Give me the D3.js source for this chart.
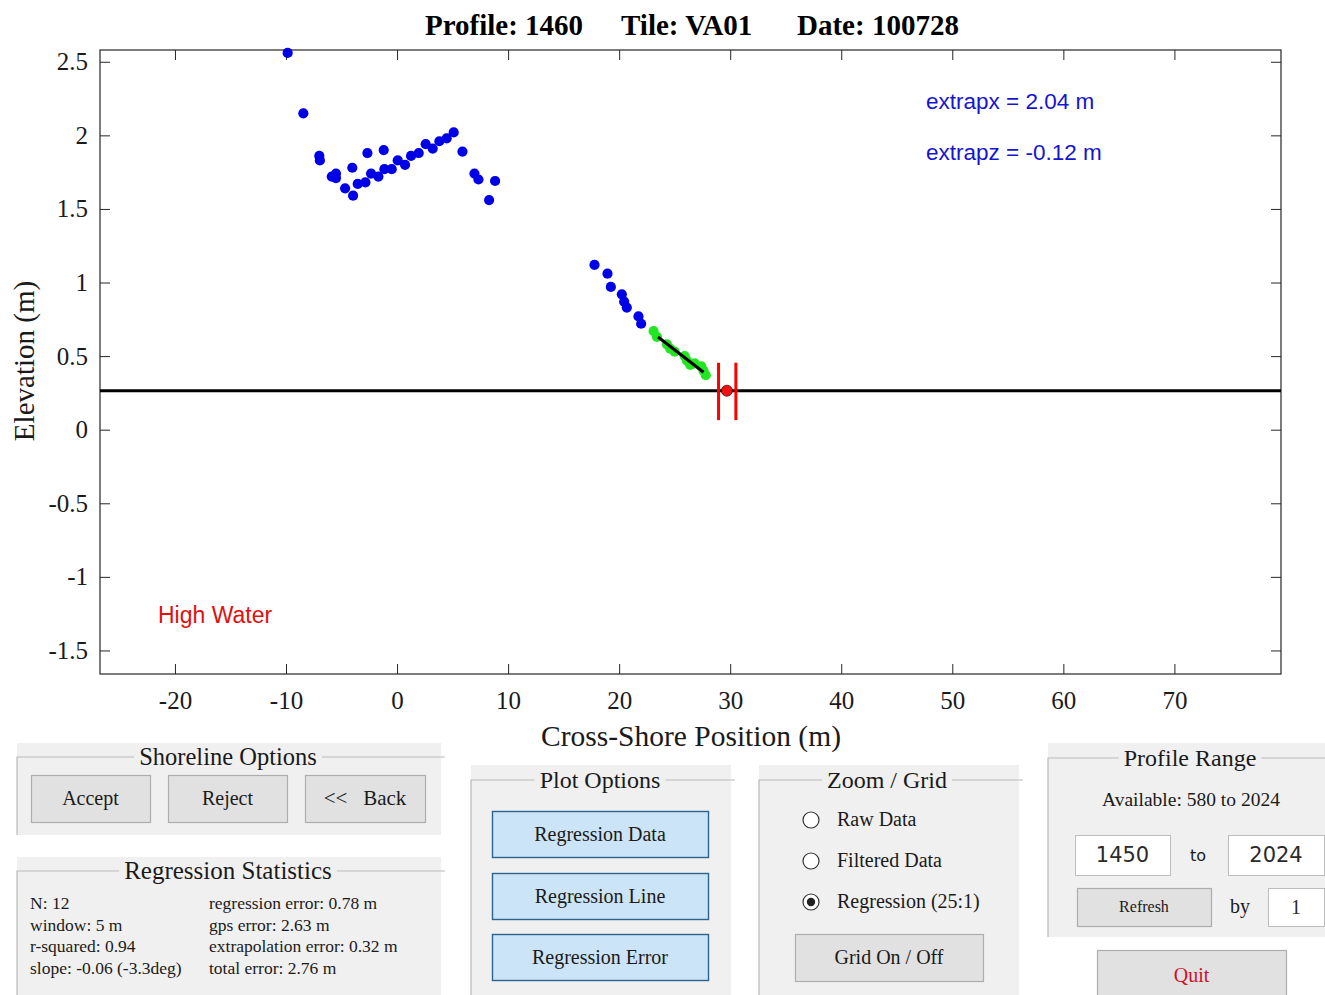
<!DOCTYPE html>
<html><head><meta charset="utf-8">
<script src="https://cdn.jsdelivr.net/npm/d3@7"></script>
<style>
body{margin:0;background:#fff;}
svg{display:block;}
</style></head>
<body>
<svg id="c" width="1325" height="995"></svg>
<script>
// ---- data ----
const titleParts = ["Profile: 1460", "Tile: VA01", "Date: 100728"];
const xTicks = [-20,-10,0,10,20,30,40,50,60,70];
const yTicks = [-1.5,-1,-0.5,0,0.5,1,1.5,2,2.5];
const xDomain = [-26.75, 79.6];
const yDomain = [-1.66, 2.58];
const rawX = [-9.85,-8.44,-7.0,-6.95,-5.88,-5.5,-5.5,-4.68,-4.03,-3.96,-3.54,-2.85,-2.67,-2.34,-1.68,-1.2,-1.14,-0.48,0.06,0.72,1.26,1.95,2.58,3.21,3.81,4.47,5.1,5.89,6.97,7.33,8.29,8.83,
              17.78,18.95,19.25,20.24,20.45,20.69,21.74,21.98];
const rawZ = [2.56,2.15,1.86,1.83,1.72,1.74,1.71,1.64,1.78,1.59,1.67,1.68,1.88,1.74,1.72,1.90,1.77,1.77,1.83,1.80,1.86,1.88,1.94,1.91,1.96,1.98,2.02,1.89,1.74,1.70,1.56,1.69,
              1.12,1.06,0.97,0.92,0.87,0.83,0.77,0.72];
const regX = [23.1,23.4,24.3,24.6,25.0,25.9,26.1,26.4,26.8,27.4,27.6,27.8];
const regZ = [0.67,0.63,0.58,0.55,0.53,0.50,0.47,0.44,0.45,0.43,0.40,0.37];
const fitX = [23.5, 27.6];
const fitZ = [0.63, 0.39];
const highWater = 0.265;
const shoreX = 29.7;
const shoreErrX = [28.95, 30.51];
const shoreErrZ = [0.065, 0.455];
const annotations = ["extrapx = 2.04 m", "extrapz = -0.12 m"];
const hwLabel = "High Water";
const statsLeft = ["N: 12","window: 5 m","r-squared: 0.94","slope: -0.06 (-3.3deg)"];
const statsRight = ["regression error: 0.78 m","gps error: 2.63 m","extrapolation error: 0.32 m","total error: 2.76 m"];

// ---- chart ----
const svg = d3.select("#c");
const L=100, R=1281, T=50, B=674;
const x = d3.scaleLinear().domain(xDomain).range([L,R]);
const y = d3.scaleLinear().domain(yDomain).range([B,T]);
const serif = "'Liberation Serif','Times New Roman',serif";
const sans = "'Liberation Sans',Arial,sans-serif";
const axCol = "#262626";

// title
const tx = [425, 621, 797];
svg.selectAll("text.title").data(titleParts).join("text").attr("class","title")
  .attr("x",(d,i)=>tx[i]).attr("y",35).attr("font-family",serif).attr("font-weight","bold")
  .attr("font-size",29).attr("fill","#000").text(d=>d);

const g = svg.append("g");
g.append("rect").attr("x",L).attr("y",T).attr("width",R-L).attr("height",B-T).attr("fill","#fff");

function styleAxis(sel){
  sel.select(".domain").remove();
  sel.selectAll(".tick line").attr("stroke",axCol);
  sel.selectAll(".tick text").attr("font-family",serif).attr("font-size",25).attr("fill","#1a1a1a");
}
const fmt = d=>String(d);
g.append("g").attr("transform",`translate(0,${B})`)
  .call(d3.axisBottom(x).tickValues(xTicks).tickFormat(fmt).tickSizeInner(-10).tickSizeOuter(0).tickPadding(17)).call(styleAxis);
g.append("g").attr("transform",`translate(0,${T})`)
  .call(d3.axisTop(x).tickValues(xTicks).tickFormat("").tickSizeInner(-10).tickSizeOuter(0)).call(styleAxis);
g.append("g").attr("transform",`translate(${L},0)`)
  .call(d3.axisLeft(y).tickValues(yTicks).tickFormat(fmt).tickSizeInner(-10).tickSizeOuter(0).tickPadding(12)).call(styleAxis);
g.append("g").attr("transform",`translate(${R},0)`)
  .call(d3.axisRight(y).tickValues(yTicks).tickFormat("").tickSizeInner(-10).tickSizeOuter(0)).call(styleAxis);
g.append("rect").attr("x",L).attr("y",T).attr("width",R-L).attr("height",B-T).attr("fill","none").attr("stroke",axCol).attr("stroke-width",1.2);

// axis labels
svg.append("text").attr("x",691).attr("y",746).attr("text-anchor","middle").attr("font-family",serif)
  .attr("font-size",29.5).attr("fill","#1a1a1a").text("Cross-Shore Position (m)");
svg.append("text").attr("transform","translate(34,361) rotate(-90)").attr("text-anchor","middle").attr("font-family",serif)
  .attr("font-size",29).attr("fill","#1a1a1a").text("Elevation (m)");

// high water line
g.append("line").attr("x1",L).attr("x2",R).attr("y1",y(highWater)).attr("y2",y(highWater)).attr("stroke","#000").attr("stroke-width",3);

// raw points
g.selectAll("circle.raw").data(rawX.map((v,i)=>[v,rawZ[i]])).join("circle").attr("class","raw")
  .attr("cx",d=>x(d[0])).attr("cy",d=>y(d[1])).attr("r",5.1).attr("fill","#0000e6");
g.selectAll("circle.reg").data(regX.map((v,i)=>[v,regZ[i]])).join("circle").attr("class","reg")
  .attr("cx",d=>x(d[0])).attr("cy",d=>y(d[1])).attr("r",5.1).attr("fill","#22e622");
g.append("line").attr("x1",x(fitX[0])).attr("y1",y(fitZ[0])).attr("x2",x(fitX[1])).attr("y2",y(fitZ[1]))
  .attr("stroke","#000").attr("stroke-width",3);

// shoreline & error bars
shoreErrX.forEach(v=>{
  g.append("line").attr("x1",x(v)).attr("x2",x(v)).attr("y1",y(shoreErrZ[0])).attr("y2",y(shoreErrZ[1]))
   .attr("stroke","#ff0000").attr("stroke-width",3);
});
g.append("circle").attr("cx",x(shoreX)).attr("cy",y(highWater)).attr("r",5.5).attr("fill","#ee1111").attr("stroke","#600").attr("stroke-width",0.8);

// annotations
svg.selectAll("text.ann").data(annotations).join("text").attr("class","ann")
  .attr("x",926).attr("y",(d,i)=>109+i*51).attr("font-family",sans).attr("font-size",22.5).attr("fill","#1414d2").text(d=>d);
svg.append("text").attr("x",158).attr("y",623).attr("font-family",sans).attr("font-size",23).attr("fill","#e01010").text(hwLabel);

// ---- UI panels ----
const panelBg = "#f0f0f0", lineCol = "#b9b9b9";
function panel(x0,y0,x1,y1,lineY,title,cx,fs){
  svg.append("rect").attr("x",x0).attr("y",y0).attr("width",x1-x0).attr("height",y1-y0).attr("fill",panelBg);
  svg.append("path").attr("d",`M${x0},${y1} V${lineY} H${x1+4}`).attr("fill","none").attr("stroke",lineCol).attr("stroke-width",1.2);
  const t = svg.append("text").attr("x",cx).attr("y",lineY+8).attr("text-anchor","middle").attr("font-family",serif)
    .attr("font-size",fs).attr("fill","#1a1a1a").text(title);
  const bb = t.node().getBBox();
  svg.insert("rect", function(){return t.node();}).attr("x",bb.x-5).attr("y",lineY-3).attr("width",bb.width+10).attr("height",6).attr("fill",panelBg);
}
function button(x0,y0,w,h,label,opts={}){
  svg.append("rect").attr("x",x0+0.5).attr("y",y0+0.5).attr("width",w).attr("height",h)
    .attr("fill",opts.fill||"#e1e1e1").attr("stroke",opts.stroke||"#adadad").attr("stroke-width",opts.sw||1.2);
  svg.append("text").attr("x",x0+w/2).attr("y",y0+h/2+ (opts.fs||20)*0.33).attr("text-anchor","middle")
    .attr("font-family",opts.font||serif).attr("font-size",opts.fs||20).attr("fill",opts.color||"#1a1a1a").text(label);
}

panel(17,743,441,835,757,"Shoreline Options",228,24.5);
button(31,775,119,47,"Accept");
button(168,775,119,47,"Reject");
button(305,775,120,47,"<<\u00a0\u00a0\u00a0Back",{fs:21});

panel(17,857,441,995,871,"Regression Statistics",228,25);
svg.selectAll("text.sl").data(statsLeft).join("text").attr("class","sl")
  .attr("x",30).attr("y",(d,i)=>909+i*21.5).attr("font-family",serif).attr("font-size",17.5).attr("fill","#1a1a1a").text(d=>d);
svg.selectAll("text.sr").data(statsRight).join("text").attr("class","sr")
  .attr("x",209).attr("y",(d,i)=>909+i*21.5).attr("font-family",serif).attr("font-size",17.5).attr("fill","#1a1a1a").text(d=>d);

panel(471,765,731,995,780,"Plot Options",600,24);
const blueBtn = {fill:"#cce4f7", stroke:"#2c628b", sw:1.4};
button(492,811,216,46,"Regression Data",blueBtn);
button(492,873,216,46,"Regression Line",blueBtn);
button(492,934,216,46,"Regression Error",blueBtn);

panel(759,765,1019,995,780,"Zoom / Grid",887,24);
const radios = ["Raw Data","Filtered Data","Regression (25:1)"];
radios.forEach((r,i)=>{
  const cy = 820 + i*41;
  svg.append("circle").attr("cx",811).attr("cy",cy).attr("r",8).attr("fill","#fff").attr("stroke","#333").attr("stroke-width",1.2);
  if(i===2) svg.append("circle").attr("cx",811).attr("cy",cy).attr("r",4.2).attr("fill","#222");
  svg.append("text").attr("x",837).attr("y",cy+6).attr("font-family",serif).attr("font-size",20).attr("fill","#1a1a1a").text(r);
});
button(795,934,188,47,"Grid On / Off");

panel(1048,743,1325,937,758,"Profile Range",1190,24);
svg.append("text").attr("x",1191).attr("y",806).attr("text-anchor","middle").attr("font-family",serif).attr("font-size",19.5).attr("fill","#1a1a1a").text("Available: 580 to 2024");
function box(x0,y0,w,h,label,fs,font){
  svg.append("rect").attr("x",x0+0.5).attr("y",y0+0.5).attr("width",w).attr("height",h).attr("fill","#fff").attr("stroke","#bdbdbd");
  svg.append("text").attr("x",x0+w/2).attr("y",y0+h/2+fs*0.35).attr("text-anchor","middle").attr("font-family",font).attr("font-size",fs).attr("fill","#2a2a2a").text(label);
}
box(1075,835,95,40,"1450",21,"'DejaVu Sans',sans-serif");
box(1228,835,96,40,"2024",21,"'DejaVu Sans',sans-serif");
svg.append("text").attr("x",1198).attr("y",861).attr("text-anchor","middle").attr("font-family","'DejaVu Sans',sans-serif").attr("font-size",16).attr("fill","#1a1a1a").text("to");
button(1077,888,134,38,"Refresh",{fs:16});
svg.append("text").attr("x",1240).attr("y",913).attr("text-anchor","middle").attr("font-family",serif).attr("font-size",20).attr("fill","#1a1a1a").text("by");
box(1268,888,56,38,"1",20,serif);

button(1097,950,189,50,"Quit",{color:"#d0102a"});
</script>
</body></html>
